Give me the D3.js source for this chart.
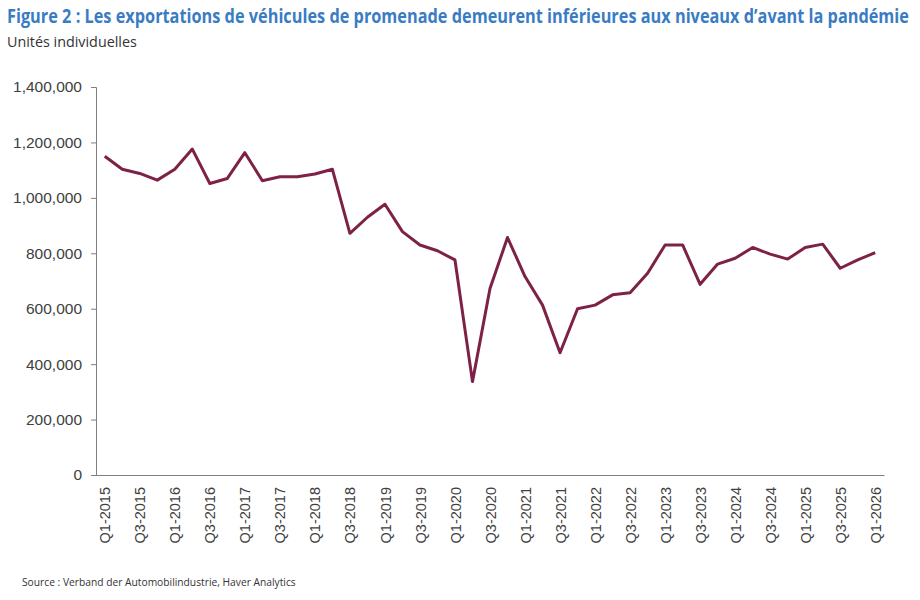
<!DOCTYPE html>
<html><head><meta charset="utf-8">
<script src="https://cdn.jsdelivr.net/npm/d3@7"></script>
<style>body{margin:0;background:#fff}svg{display:block}</style>
</head><body><svg id="c" width="920" height="600"></svg>
<script>
const quarters = [];
for (let y = 2015; y <= 2026; y++) for (let q = 1; q <= 4; q++) { if (y === 2026 && q > 1) break; quarters.push("Q" + q + "-" + y); }
const exportsUnits = [1150000,1103000,1088000,1064000,1103000,1176000,1052000,1070000,1163000,1062000,1076000,1076000,1086000,1103000,872000,930000,977000,878000,830000,809000,776000,337000,673000,857000,716000,613000,441000,600000,613000,650000,658000,728000,830000,830000,688000,761000,782000,821000,797000,779000,821000,833000,746000,776000,802000];
const yTicks = [0,200000,400000,600000,800000,1000000,1200000,1400000];
const titleText = "Figure 2 : Les exportations de véhicules de promenade demeurent inférieures aux niveaux d’avant la pandémie";
const subtitleText = "Unités individuelles";
const sourceText = "Source : Verband der Automobilindustrie, Haver Analytics";

const svg = d3.select("#c");
const x = d3.scalePoint().domain(quarters).range([96, 884]).padding(0.5);
const y = d3.scaleLinear().domain([0, 1400000]).range([475, 87]);

function condensed(txt, x0, y0, width, size, weight, color) {
  const t = svg.append("text").attr("x", 0).attr("y", 0).attr("fill", color)
    .attr("font-family", "'Open Sans','Liberation Sans',sans-serif")
    .attr("font-weight", weight).attr("font-size", size).text(txt);
  const w = t.node().getComputedTextLength();
  t.attr("transform", `translate(${x0},${y0}) scale(${width / w},1)`);
  return t;
}
condensed(titleText, 7, 23, 903, 19, "bold", "#3a7cc4");
condensed(subtitleText, 7, 47, 130, 14, "normal", "#333");

const yAxis = svg.append("g").attr("transform", "translate(96,0)")
  .call(d3.axisLeft(y).tickValues(yTicks).tickSize(5).tickPadding(9).tickFormat(d3.format(",")));
yAxis.select(".domain").attr("stroke", "#7f7f7f");
yAxis.selectAll(".tick line").attr("stroke", "#7f7f7f");
yAxis.selectAll("text").attr("font-family", "'Liberation Sans',Arial,sans-serif").attr("font-size", 15.5).attr("fill", "#404040");

const xAxis = svg.append("g").attr("transform", "translate(0,475)")
  .call(d3.axisBottom(x).tickValues(quarters.filter((d, i) => i % 2 === 0)).tickSize(0).tickSizeOuter(0));
xAxis.select(".domain").attr("stroke", "#7f7f7f");
xAxis.selectAll("text").attr("font-family", "'Liberation Sans',Arial,sans-serif").attr("font-size", 14.5).attr("fill", "#404040")
  .attr("transform", "rotate(-90)").attr("text-anchor", "end").attr("dx", "-12").attr("dy", "0.35em").attr("y", 0).attr("x", 0);

const line = d3.line().x((d, i) => x(quarters[i])).y(d => y(d));
svg.append("path").datum(exportsUnits).attr("d", line).attr("fill", "none")
  .attr("stroke", "#7d2246").attr("stroke-width", 3).attr("stroke-linejoin", "round");

condensed(sourceText, 22, 586, 274, 11, "normal", "#333");
</script></body></html>
